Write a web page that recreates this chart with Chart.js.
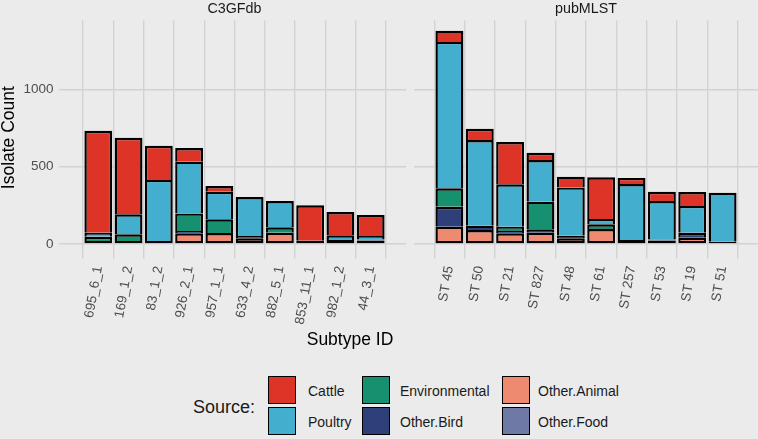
<!DOCTYPE html>
<html><head><meta charset="utf-8">
<script src="https://cdn.jsdelivr.net/npm/chart.js@4.4.1/dist/chart.umd.min.js"></script>
<style>
html,body{margin:0;padding:0;background:#EBEBEB;}
body{width:758px;height:439px;position:relative;overflow:hidden;font-family:"Liberation Sans",Arial,sans-serif;}
canvas{position:absolute;top:0;}
#c1{left:0;}
#c2{left:414px;}
.t{position:absolute;white-space:nowrap;}
.strip{top:0;height:17px;line-height:17px;font-size:14.3px;color:#1A1A1A;text-align:center;}
.key{position:absolute;width:28px;height:28px;box-sizing:border-box;border:1.6px solid #000;}
.lab{font-size:14px;line-height:28px;height:28px;color:#1A1A1A;}
</style></head>
<body>
<canvas id="c1" width="406" height="340"></canvas>
<canvas id="c2" width="344" height="340"></canvas>
<div class="t strip" style="left:63px;width:343px;">C3GFdb</div>
<div class="t strip" style="left:414px;width:344px;">pubMLST</div>
<div class="t" style="left:250px;width:200px;text-align:center;top:329px;font-size:17.5px;line-height:20px;color:#000;">Subtype ID</div>
<div id="legend"></div>
<script>
// ---- data ----
const sources = ["Cattle","Poultry","Environmental","Other.Bird","Other.Animal","Other.Food"];
const sourceColors = ["#DD3427","#43AECD","#17906F","#2E3F79","#EE8A6F","#6F79A5"];

const c3Cats = ["695_6_1","169_1_2","83_1_2","926_2_1","957_1_1","633_4_2","882_5_1","853_11_1","982_1_2","44_3_1"];
const c3Cattle        = [659, 495, 221,  88,  37, null, null, 229, 151, 135];
const c3Poultry       = [ 26, 129, 394, 334, 178,  252,  170, null, 30,  22];
const c3Environmental = [ 47,  63, null, 114, 89, null,   35, null, null, null];
const c3OtherBird     = [null, null, 20,  15, null,  15, null, null, 26,   8];
const c3OtherAnimal   = [null, null, null, 69, 71,  37,   73,  21, null,  22];
const c3OtherFood     = [null, null, null, null, null, null, null, null, null, null];

const pmCats = ["ST 45","ST 50","ST 21","ST 827","ST 48","ST 61","ST 257","ST 53","ST 19","ST 51"];
const pmCattle        = [ 73,  73, 273,  47,  69, 269,  39,  60,  90, null];
const pmPoultry       = [946, 554, 274, 269, 312,  35, 362, 248, 173, 317];
const pmEnvironmental = [119, null, 28, 179, null, 30, null, null, null, null];
const pmOtherBird     = [129,  28,  15,  22,  17, null, 26,   8,  32,  15];
const pmOtherAnimal   = [112,  90,  69,  73,  37,  97, null,  22,  41, null];
const pmOtherFood     = [null, null, null, null, null, null, null, null, null, null];

const yTicks = [0, 500, 1000];
const yMin = -69, yMax = 1444;

// ---- build ----
const FONT = "'Liberation Sans', Arial, sans-serif";
const GRID = "#D2D2D2";

function makeDatasets(series){
  // series in legend order; stack bottom -> top is reverse
  const order = [5,4,3,2,1,0];
  const ds = order.map(k => ({
    label: sources[k],
    data: series[k].map((v,i)=>({x:i+1,y:v})),
    backgroundColor: sourceColors[k],
    borderColor: "#000",
    borderWidth: 2.4,
    barPercentage: 0.92,
    categoryPercentage: 1.0
  }));
  ds.forEach((d,di)=>{
    d.borderSkipped = (ctx)=>{
      const i = ctx.dataIndex;
      for(let j=0;j<di;j++){ const v = ds[j].data[i].y; if(v!==null && v!==undefined) return 'start'; }
      return false;
    };
  });
  return ds;
}

function makeChart(id, cats, series, showY){
  const n = cats.length;
  return new Chart(document.getElementById(id), {
    type: 'bar',
    data: { datasets: makeDatasets(series) },
    options: {
      responsive: false,
      animation: false,
      devicePixelRatio: 1,
      layout: { padding: { top: 20.6, left: 0, right: 0, bottom: 0 } },
      plugins: { legend: { display: false }, tooltip: { enabled: false }, title: { display: false } },
      scales: {
        x: {
          type: 'linear', stacked: true, min: 0.4, max: n + 0.6,
          afterBuildTicks: (s)=>{ s.ticks = cats.map((c,i)=>({value:i+1})); },
          afterFit: (s)=>{ s.height = 340 - 254.7; },
          ticks: {
            autoSkip: false, minRotation: 80, maxRotation: 80, padding: 6,
            color: "#4D4D4D", font: { family: FONT, size: 13.5 },
            callback: (v, idx)=> cats[idx]
          },
          grid: { color: GRID, lineWidth: 1.4, drawTicks: true, tickLength: 4, tickColor: GRID },
          border: { display: false }
        },
        y: {
          stacked: true, min: yMin, max: yMax,
          afterBuildTicks: (s)=>{ s.ticks = yTicks.map(v=>({value:v})); },
          afterFit: (s)=>{ s.width = showY ? 63 : 0; },
          ticks: {
            display: showY, padding: 5.5,
            color: "#4D4D4D", font: { family: FONT, size: 13.5 },
            callback: (v)=> String(v)
          },
          title: {
            display: showY, text: "Isolate Count", color: "#000",
            font: { family: FONT, size: 17.5, lineHeight: 1 }, padding: { top: 0, bottom: 0 }
          },
          grid: { color: GRID, lineWidth: 1.4, drawTicks: showY, tickLength: 4, tickColor: GRID },
          border: { display: false }
        }
      }
    }
  });
}

makeChart('c1', c3Cats, [c3Cattle, c3Poultry, c3Environmental, c3OtherBird, c3OtherAnimal, c3OtherFood], true);
makeChart('c2', pmCats, [pmCattle, pmPoultry, pmEnvironmental, pmOtherBird, pmOtherAnimal, pmOtherFood], false);

// ---- legend (HTML, ggplot style: 2 rows, filled column-wise) ----
const lg = document.getElementById('legend');
const title = document.createElement('div');
title.className = 't';
title.style.cssText = "left:193px;top:396px;font-size:18px;line-height:22px;color:#1A1A1A;";
title.textContent = "Source:";
lg.appendChild(title);
const keyX = [268, 362, 502], labX = [308, 400, 538], rowY = [376, 407];
sources.forEach((s, k)=>{
  const col = Math.floor(k/2), row = k%2;
  const key = document.createElement('div');
  key.className = 'key';
  key.style.left = keyX[col] + 'px'; key.style.top = rowY[row] + 'px';
  key.style.background = sourceColors[k];
  lg.appendChild(key);
  const lab = document.createElement('div');
  lab.className = 't lab';
  lab.style.left = labX[col] + 'px'; lab.style.top = (rowY[row] + 1) + 'px';
  lab.textContent = s;
  lg.appendChild(lab);
});
</script>
</body></html>
